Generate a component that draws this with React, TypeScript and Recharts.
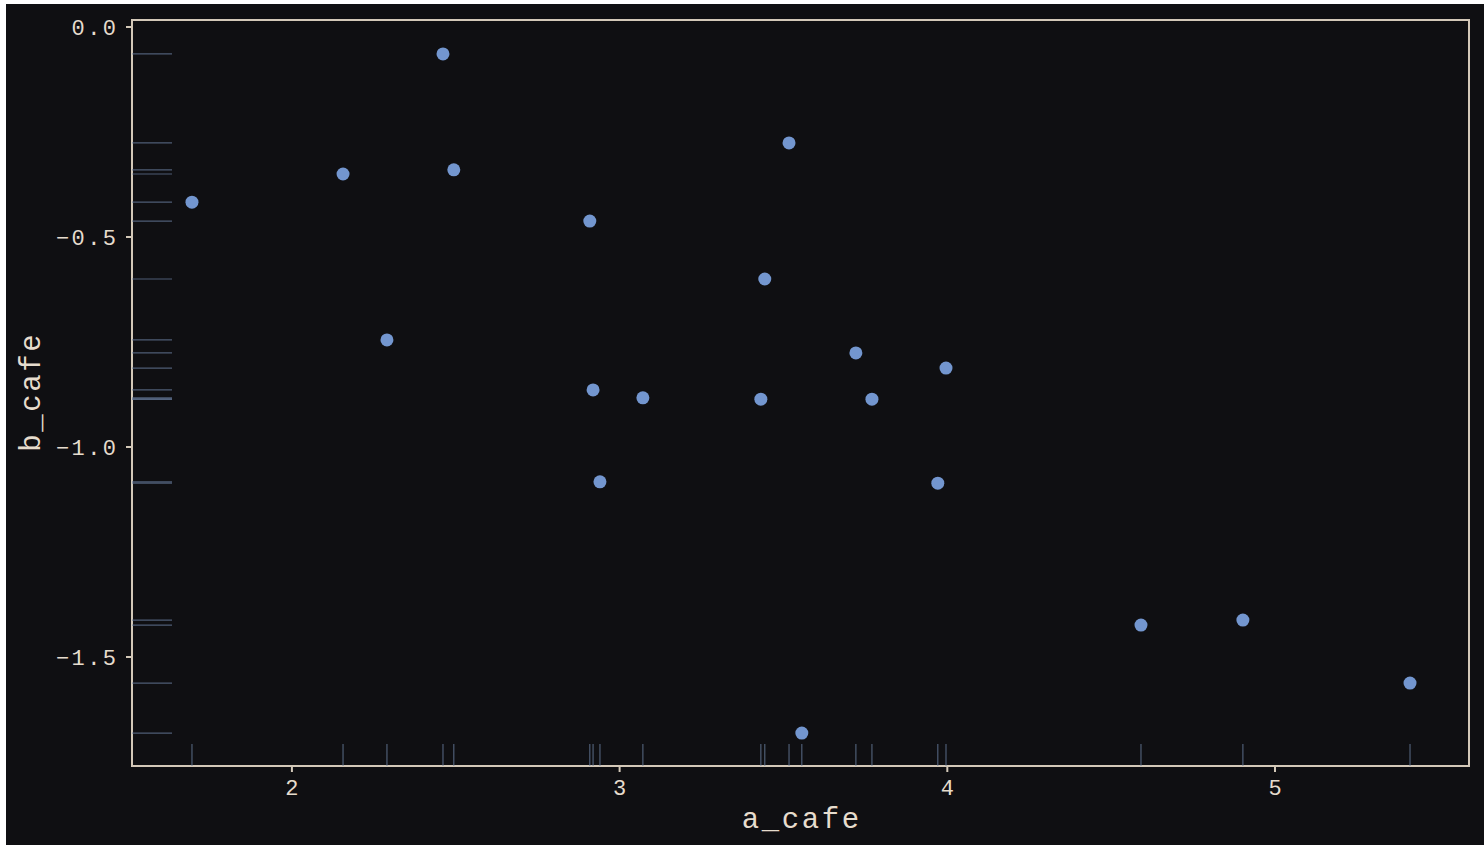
import {
  ReferenceArea,
  Scatter,
  ScatterChart,
  XAxis,
  YAxis,
} from 'recharts'

const aCafe = [
  1.695, 2.156, 2.461, 2.494, 2.29, 2.909, 2.919, 2.94, 3.071, 3.517,
  3.443, 3.431, 3.556, 3.721, 3.77, 3.996, 3.971, 4.591, 4.902, 5.412,
]
const bCafe = [
  -0.417, -0.35, -0.064, -0.34, -0.745, -0.462, -0.864, -1.083, -0.883, -0.276,
  -0.6, -0.886, -1.681, -0.776, -0.886, -0.812, -1.086, -1.424, -1.412, -1.562,
]
const xTicks = [2, 3, 4, 5]
const yTicks = [0, -0.5, -1.0, -1.5]

const xDomain: [number, number] = [1.512, 5.592]
const yDomain: [number, number] = [-1.7595, 0.0167]

const bg = '#0f0f12'
const ink = '#e6dccd'
const frame = '#d3c8b8'
const dot = '#7396cf'
const rug = '#6a7fa0'
const font = '"Liberation Mono", "DejaVu Sans Mono", monospace'

const points = aCafe.map((a, i) => ({ a, b: bCafe[i] }))
const xRug = aCafe.map((a) => ({ a, b: yDomain[0] }))
const yRug = bCafe.map((b) => ({ a: xDomain[0], b }))

const XRugMark = (props: any) => (
  <line
    x1={props.cx}
    x2={props.cx}
    y1={props.cy - 22}
    y2={props.cy}
    stroke={rug}
    strokeOpacity={0.7}
    strokeWidth={1.2}
  />
)

const YRugMark = (props: any) => (
  <line
    x1={props.cx}
    x2={props.cx + 40}
    y1={props.cy}
    y2={props.cy}
    stroke={rug}
    strokeOpacity={0.7}
    strokeWidth={1.2}
  />
)

const XTick = (props: any) => {
  const { x, y, payload } = props
  return (
    <text
      x={x + 1.2}
      y={y}
      dy='0.71em'
      textAnchor='middle'
      fill={ink}
      fontSize={22}
      fontFamily={font}
      letterSpacing={2.4}
    >
      {payload.value}
    </text>
  )
}

const YTick = (props: any) => {
  const { x, y, payload } = props
  return (
    <text
      x={x + 2.4}
      y={y}
      dy='0.355em'
      textAnchor='end'
      fill={ink}
      fontSize={22}
      fontFamily={font}
      letterSpacing={2.4}
    >
      {payload.value.toFixed(1).replace('-', '\u2212')}
    </text>
  )
}

const XLabel = (props: any) => {
  const { viewBox } = props
  return (
    <text
      x={viewBox.x + viewBox.width / 2 + 1.3}
      y={viewBox.y + 54}
      textAnchor='middle'
      dominantBaseline='central'
      fill={ink}
      fontSize={29}
      fontFamily={font}
      letterSpacing={2.6}
    >
      a_cafe
    </text>
  )
}

const YLabel = (props: any) => {
  const { viewBox } = props
  const x = viewBox.x + 27
  const y = viewBox.y + viewBox.height / 2 - 1.3
  return (
    <text
      x={x}
      y={y}
      transform={`rotate(-90 ${x} ${y})`}
      textAnchor='middle'
      dominantBaseline='central'
      fill={ink}
      fontSize={29}
      fontFamily={font}
      letterSpacing={2.6}
    >
      b_cafe
    </text>
  )
}

export default function App() {
  return (
    <div
      style={{
        position: 'fixed',
        left: 6,
        top: 4,
        width: 1478,
        height: 841,
        background: bg,
      }}
    >
      <ScatterChart
        width={1478}
        height={841}
        margin={{ top: 16, right: 15, left: 0, bottom: 0 }}
      >
        <XAxis
          type='number'
          dataKey='a'
          domain={xDomain}
          allowDataOverflow
          ticks={xTicks}
          height={79}
          stroke={frame}
          strokeWidth={2}
          tickSize={6}
          tickMargin={7}
          tick={<XTick />}
          label={<XLabel />}
        />
        <YAxis
          type='number'
          dataKey='b'
          domain={yDomain}
          allowDataOverflow
          ticks={yTicks}
          width={126}
          stroke={frame}
          strokeWidth={2}
          tickSize={6}
          tickMargin={10}
          tick={<YTick />}
          label={<YLabel />}
        />
        <Scatter data={xRug} shape={<XRugMark />} isAnimationActive={false} />
        <Scatter data={yRug} shape={<YRugMark />} isAnimationActive={false} />
        <Scatter
          data={points}
          fill={dot}
          shape={(p: any) => <circle cx={p.cx} cy={p.cy} r={6.5} fill={dot} />}
          isAnimationActive={false}
        />
        <ReferenceArea
          x1={xDomain[0]}
          x2={xDomain[1]}
          y1={yDomain[0]}
          y2={yDomain[1]}
          fill='none'
          stroke={frame}
          strokeWidth={2}
          ifOverflow='visible'
        />
      </ScatterChart>
    </div>
  )
}
